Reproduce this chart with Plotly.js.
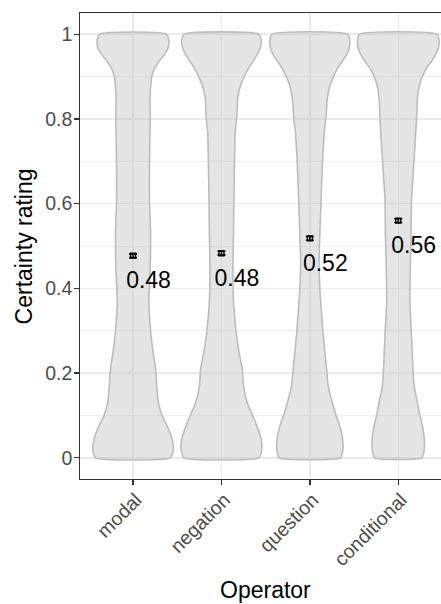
<!DOCTYPE html>
<html>
<head>
<meta charset="utf-8">
<script src="https://cdn.plot.ly/plotly-3.0.1.min.js"></script>
<style>
html, body { margin: 0; padding: 0; overflow: hidden; background: #fff; }
#chart { width: 441px; height: 604px; }
</style>
</head>
<body>
<div id="chart"></div>
<script>
// ---- data ----
const categories = ['modal', 'negation', 'question', 'conditional'];
const meanRating = [0.477, 0.483, 0.518, 0.560];
const seRating = [0.0045, 0.0045, 0.0045, 0.0045];

// violin density profile: rating levels and half-widths (in category units)
const densityLevels = [0, 0.012, 0.027, 0.05, 0.075, 0.1, 0.13, 0.17, 0.21, 0.25, 0.3, 0.37, 0.45, 0.53, 0.61, 0.69, 0.77, 0.8, 0.85, 0.88, 0.9, 0.92, 0.935, 0.95, 0.966, 0.986, 1];
const halfWidthModal = [0.424, 0.449, 0.455, 0.433, 0.386, 0.328, 0.286, 0.268, 0.255, 0.226, 0.198, 0.179, 0.194, 0.198, 0.186, 0.186, 0.192, 0.195, 0.192, 0.200, 0.212, 0.245, 0.292, 0.348, 0.395, 0.405, 0.376];
const halfWidthNegation = [0.424, 0.449, 0.458, 0.443, 0.401, 0.353, 0.292, 0.249, 0.235, 0.198, 0.164, 0.136, 0.130, 0.136, 0.141, 0.147, 0.156, 0.172, 0.184, 0.217, 0.258, 0.307, 0.354, 0.399, 0.437, 0.449, 0.420];
const halfWidthQuestion = [0.348, 0.367, 0.376, 0.367, 0.339, 0.297, 0.254, 0.207, 0.189, 0.169, 0.147, 0.122, 0.104, 0.113, 0.127, 0.141, 0.164, 0.181, 0.198, 0.229, 0.268, 0.314, 0.362, 0.410, 0.444, 0.452, 0.427];
const halfWidthConditional = [0.268, 0.288, 0.297, 0.292, 0.273, 0.245, 0.217, 0.179, 0.166, 0.158, 0.147, 0.131, 0.136, 0.145, 0.150, 0.175, 0.198, 0.207, 0.217, 0.240, 0.273, 0.320, 0.373, 0.418, 0.452, 0.461, 0.438];
const halfWidths = [halfWidthModal, halfWidthNegation, halfWidthQuestion, halfWidthConditional];

const yTickVals = [0, 0.2, 0.4, 0.6, 0.8, 1];
const yTickText = ['0', '0.2', '0.4', '0.6', '0.8', '1'];
const yMinorVals = [0.1, 0.3, 0.5, 0.7, 0.9];

// ---- build traces ----
const FONT = 'Liberation Sans, Arial, sans-serif';
const traces = [];
categories.forEach((cat, i) => {
  const c = i + 1;
  const hw = halfWidths[i];
  const xs = [], ys = [];
  for (let k = 0; k < densityLevels.length; k++) { xs.push(c + hw[k]); ys.push(densityLevels[k]); }
  for (let k = densityLevels.length - 1; k >= 0; k--) { xs.push(c - hw[k]); ys.push(densityLevels[k]); }
  xs.push(xs[0]); ys.push(ys[0]);
  traces.push({
    type: 'scatter', mode: 'lines', x: xs, y: ys,
    fill: 'toself', fillcolor: 'rgba(190,190,190,0.40)',
    line: { color: '#BDBDBD', width: 1.6, shape: 'spline', smoothing: 0.6 },
    hoverinfo: 'skip', showlegend: false
  });
});

const xPos = categories.map((_, i) => i + 1);
traces.push({
  type: 'scatter', mode: 'markers', x: xPos, y: meanRating,
  marker: { symbol: 'square-open', size: 5, color: '#000', line: { width: 1.4, color: '#000' } },
  error_y: { type: 'data', array: seRating, visible: true, color: '#000', thickness: 1.6, width: 4 },
  showlegend: false, hoverinfo: 'skip'
});
traces.push({
  type: 'scatter', mode: 'text',
  x: xPos.map(v => v + 0.175),
  y: meanRating.map(v => v - 0.063),
  text: meanRating.map(v => v.toFixed(2)),
  textposition: 'middle center',
  textfont: { family: FONT, size: 23, color: '#000' },
  showlegend: false, hoverinfo: 'skip', cliponaxis: false
});

const gridCol = '#EBEBEB';
const layout = {
  width: 441, height: 604,
  margin: { l: 79.6, r: 0, t: 13, b: 125, pad: 0 },
  paper_bgcolor: '#fff', plot_bgcolor: '#fff',
  font: { family: FONT, color: '#4D4D4D' },
  showlegend: false,
  xaxis: {
    type: 'linear', range: [0.4, 4.4836], fixedrange: true,
    tickmode: 'array', tickvals: xPos, ticktext: categories,
    tickangle: -45, tickfont: { family: FONT, size: 19.5, color: '#4D4D4D' },
    ticks: 'outside', ticklen: 4.5, tickwidth: 1.3, tickcolor: '#333',
    ticklabelstandoff: -4, ticklabelshift: 3,
    showgrid: true, gridcolor: gridCol, gridwidth: 1.5,
    zeroline: false, showline: true, mirror: true, linecolor: '#333', linewidth: 1.3
  },
  yaxis: {
    range: [-0.05, 1.05], fixedrange: true,
    tickmode: 'array', tickvals: yTickVals, ticktext: yTickText,
    tickfont: { family: FONT, size: 19.5, color: '#4D4D4D' },
    ticks: 'outside', ticklen: 4.5, tickwidth: 1.3, tickcolor: '#333',
    ticklabelstandoff: -2,
    showgrid: true, gridcolor: gridCol, gridwidth: 1.5,
    minor: { tickmode: 'array', tickvals: yMinorVals, showgrid: true, gridcolor: gridCol, gridwidth: 0.8, ticks: '' },
    zeroline: false, showline: true, mirror: false, linecolor: '#333', linewidth: 1.3
  },
  annotations: [
    { text: 'Operator', xref: 'x', x: 2.5, yref: 'paper', y: -0.238, xanchor: 'center', yanchor: 'middle',
      showarrow: false, font: { family: FONT, size: 23, color: '#000' } },
    { text: 'Certainty rating', xref: 'paper', x: -0.154, yref: 'y', y: 0.5, xanchor: 'center', yanchor: 'middle',
      textangle: -90, showarrow: false, font: { family: FONT, size: 23, color: '#000' } }
  ]
};

Plotly.newPlot('chart', traces, layout, { staticPlot: true, displayModeBar: false });
</script>
</body>
</html>
